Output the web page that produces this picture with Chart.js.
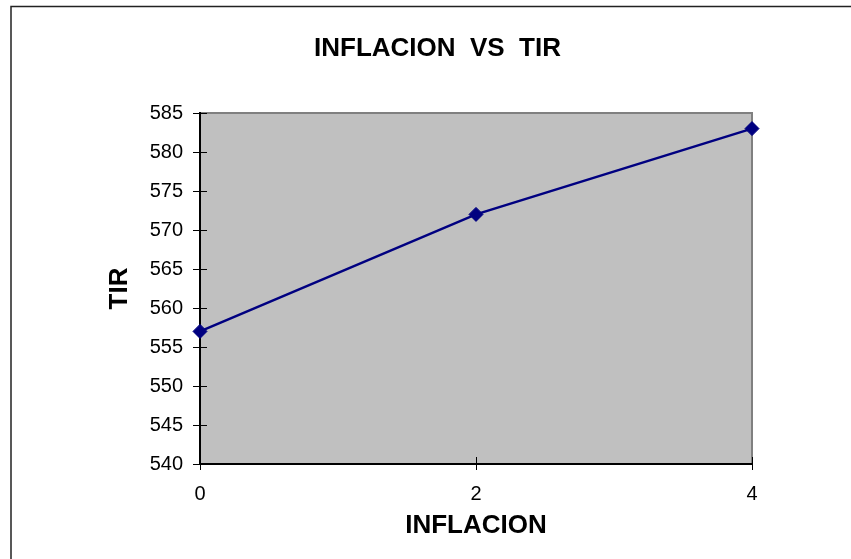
<!DOCTYPE html>
<html>
<head>
<meta charset="utf-8">
<script src="https://cdn.jsdelivr.net/npm/chart.js@4.4.1/dist/chart.umd.min.js"></script>
<style>
  html, body { margin: 0; padding: 0; background: #fff; }
  #wrap { width: 851px; height: 559px; }
</style>
</head>
<body>
<div id="wrap"><canvas id="c" width="851" height="559"></canvas></div>
<script>
// ---- data ----
const inflacion = [0, 2, 4];
const tir = [557, 572, 583];
const xTickValues = [0, 2, 4];
const yTickValues = [540, 545, 550, 555, 560, 565, 570, 575, 580, 585];
const chartTitle = 'INFLACION  VS  TIR';
const xTitle = 'INFLACION';
const yTitle = 'TIR';

const FONT = "'Liberation Sans', Arial, Helvetica, sans-serif";

const decor = {
  id: 'decor',
  beforeDraw(chart) {
    const { ctx, chartArea: { left, top, right, bottom } } = chart;
    ctx.save();
    ctx.fillStyle = '#ffffff';
    ctx.fillRect(0, 0, chart.width, chart.height);
    // outer frame (top and left visible)
    ctx.strokeStyle = '#222222';
    ctx.lineWidth = 1.5;
    ctx.beginPath();
    ctx.moveTo(11, chart.height + 5);
    ctx.lineTo(11, 6.5);
    ctx.lineTo(chart.width + 5, 6.5);
    ctx.stroke();
    // plot area
    ctx.fillStyle = '#c0c0c0';
    ctx.fillRect(left, top, right - left, bottom - top);
    ctx.strokeStyle = '#808080';
    ctx.lineWidth = 2;
    ctx.beginPath();
    ctx.moveTo(left, top);
    ctx.lineTo(right, top);
    ctx.lineTo(right, bottom);
    ctx.stroke();
    ctx.restore();
  },
  beforeDatasetsDraw(chart) {
    const { ctx, chartArea: { left, bottom }, scales: { x, y } } = chart;
    ctx.save();
    ctx.strokeStyle = '#000000';
    ctx.lineWidth = 1;
    ctx.beginPath();
    y.ticks.forEach(t => {
      const py = Math.round(y.getPixelForValue(t.value)) + 0.5;
      ctx.moveTo(left, py);
      ctx.lineTo(left + 7, py);
    });
    x.ticks.forEach(t => {
      const px = Math.round(x.getPixelForValue(t.value)) + 0.5;
      ctx.moveTo(px, bottom);
      ctx.lineTo(px, bottom - 7);
    });
    ctx.stroke();
    ctx.restore();
  },
  afterDraw(chart) {
    const { ctx } = chart;
    ctx.save();
    ctx.fillStyle = '#000000';
    ctx.font = 'bold 26px ' + FONT;
    ctx.textAlign = 'center';
    ctx.textBaseline = 'middle';
    ctx.fillText(chartTitle, 437.5, 49);
    ctx.restore();
  }
};

new Chart(document.getElementById('c'), {
  type: 'line',
  data: {
    datasets: [{
      label: yTitle,
      data: inflacion.map((v, i) => ({ x: v, y: tir[i] })),
      borderColor: '#000080',
      backgroundColor: '#000080',
      borderWidth: 2.5,
      pointStyle: 'rectRot',
      pointRadius: 7,
      pointHoverRadius: 7,
      pointBorderWidth: 1,
      pointBorderColor: '#000080',
      pointBackgroundColor: '#000080',
      tension: 0,
      clip: false
    }]
  },
  options: {
    responsive: false,
    animation: false,
    events: [],
    layout: { padding: { left: 0, right: 99, top: 113, bottom: 0 } },
    plugins: {
      legend: { display: false },
      title: { display: false },
      tooltip: { enabled: false }
    },
    scales: {
      x: {
        type: 'linear',
        position: 'bottom',
        min: 0,
        max: 4,
        afterBuildTicks(s) { s.ticks = xTickValues.map(v => ({ value: v })); },
        afterFit(s) { s.height = 95; },
        grid: { drawOnChartArea: false, tickLength: 6, color: '#000000', lineWidth: 1 },
        border: { display: true, color: '#000000', width: 2 },
        ticks: { color: '#000000', font: { family: FONT, size: 20 }, padding: 12.5, maxRotation: 0 },
        title: { display: true, text: xTitle, color: '#000000', font: { family: FONT, size: 26, weight: 'bold' }, padding: { top: 0, bottom: 18 } }
      },
      y: {
        type: 'linear',
        position: 'left',
        min: 540,
        max: 585,
        afterBuildTicks(s) { s.ticks = yTickValues.map(v => ({ value: v })); },
        afterFit(s) { s.width = 200; },
        grid: { drawOnChartArea: false, tickLength: 7, color: '#000000', lineWidth: 1 },
        border: { display: true, color: '#000000', width: 2 },
        ticks: { color: '#000000', font: { family: FONT, size: 20 }, padding: 10 },
        title: { display: true, text: yTitle, color: '#000000', font: { family: FONT, size: 26, weight: 'bold' }, padding: { top: 104.4, bottom: 0 } }
      }
    }
  },
  plugins: [decor]
});
</script>
</body>
</html>
